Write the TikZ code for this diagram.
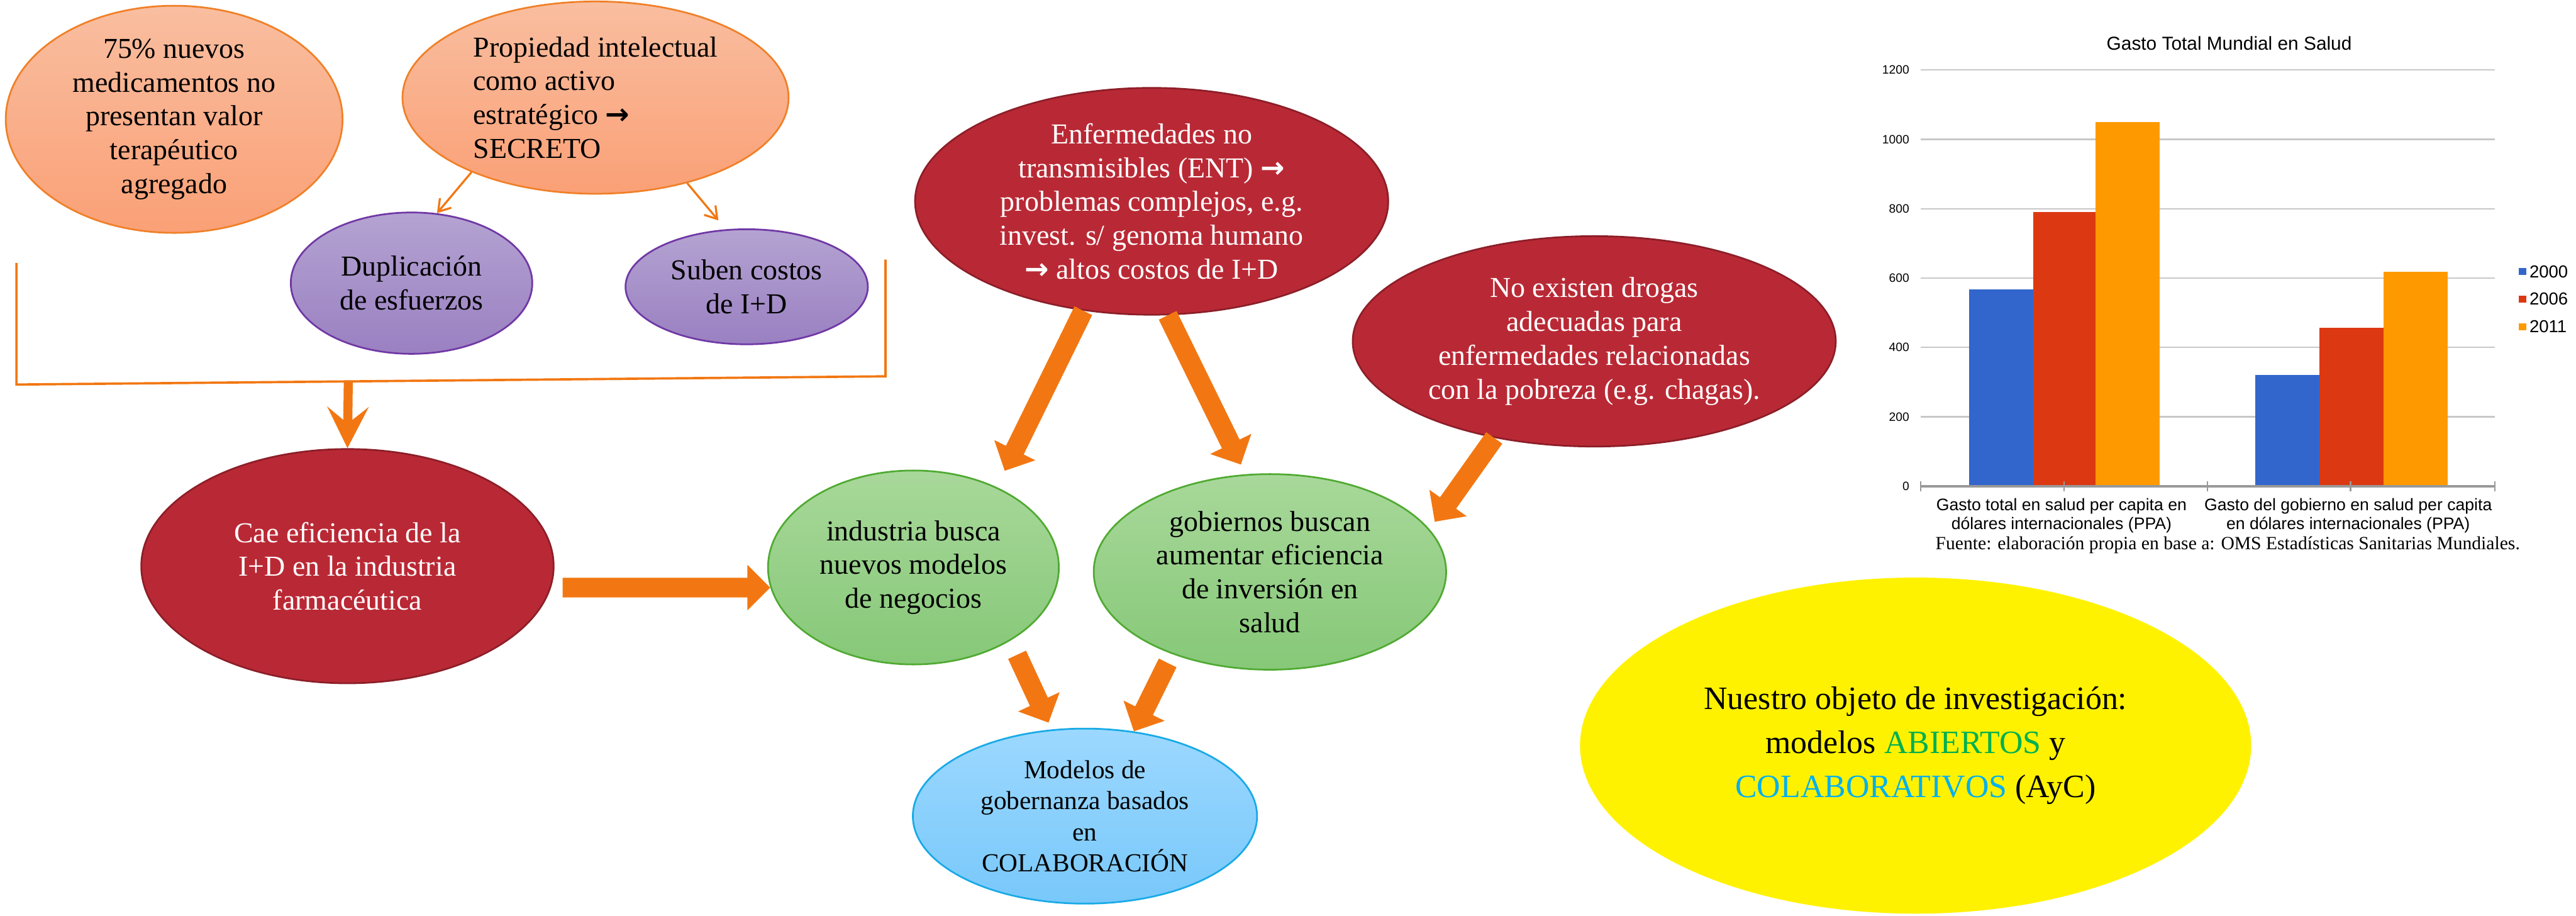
\documentclass[tikz,border=0pt]{standalone}
\usepackage{fontspec}
\setmainfont{Liberation Serif}
\setsansfont{Liberation Sans}
\newfontfamily\arrowglyph{DejaVu Sans}
\usepackage{tikz}
\usetikzlibrary{shapes.geometric,arrows.meta}
\definecolor{salmontop}{RGB}{249,190,160}
\definecolor{salmonbot}{RGB}{250,160,118}
\definecolor{salmonline}{RGB}{240,128,40}
\definecolor{purpletop}{RGB}{180,163,210}
\definecolor{purplebot}{RGB}{154,128,193}
\definecolor{purpleline}{RGB}{112,56,165}
\definecolor{darkred}{RGB}{185,41,53}
\definecolor{darkredline}{RGB}{140,30,40}
\definecolor{greentop}{RGB}{168,216,154}
\definecolor{greenbot}{RGB}{134,200,120}
\definecolor{greenline}{RGB}{80,170,50}
\definecolor{bluetop}{RGB}{156,216,255}
\definecolor{bluebot}{RGB}{120,200,250}
\definecolor{blueline}{RGB}{25,170,230}
\definecolor{arroworange}{RGB}{242,119,18}
\definecolor{chartblue}{RGB}{51,102,204}
\definecolor{chartred}{RGB}{220,57,18}
\definecolor{chartorange}{RGB}{255,153,0}
\definecolor{gridgray}{RGB}{200,200,200}
\definecolor{abiertos}{RGB}{0,176,80}
\definecolor{colab}{RGB}{0,176,240}
\newcommand{\thenarrow}{{\arrowglyph\bfseries →}}
\tikzset{
  bubble/.style={ellipse, inner sep=0pt, align=center, line width=0.6pt,
    font=\fontsize{10}{11.7}\selectfont},
  salmon/.style={bubble, draw=salmonline, top color=salmontop, bottom color=salmonbot},
  lilac/.style={bubble, draw=purpleline, top color=purpletop, bottom color=purplebot},
  redbubble/.style={bubble, draw=darkredline, fill=darkred, text=white},
  greenbubble/.style={bubble, draw=greenline, top color=greentop, bottom color=greenbot},
  bluebubble/.style={bubble, draw=blueline, top color=bluetop, bottom color=bluebot},
  fatarrow/.style={draw=arroworange, line width=2.4mm,
    -{Triangle[length=2.8mm,width=5.4mm]}},
  thinarrow/.style={draw=arroworange, line width=0.7pt,
    -{Straight Barb[length=1.4mm,width=1.8mm]}},
  bracketline/.style={draw=arroworange, line width=0.8pt},
  gridline/.style={draw=gridgray, line width=0.5pt},
  ticklbl/.style={font=\sffamily\fontsize{4.2}{5}\selectfont, anchor=east, inner sep=0pt},
}

\begin{document}
\begin{tikzpicture}[x=0.2mm, y=-0.2mm]
\path[use as bounding box, fill=white] (0,0) rectangle (1568,557);

% Top left bubbles
\node[salmon, minimum width=41mm, minimum height=25mm] (nuevos) at (106,72.6)
  {75\% nuevos\\medicamentos no\\presentan valor\\terapéutico\\agregado};
\node[salmon, minimum width=47mm, minimum height=23.4mm, align=left] (propiedad) at (362.5,59.4)
  {Propiedad intelectual\\como activo\\estratégico \thenarrow\\SECRETO};
\node[lilac, minimum width=29.4mm, minimum height=17.2mm] (duplicacion) at (250.5,172.3)
  {Duplicación\\de esfuerzos};
\node[lilac, minimum width=29.5mm, minimum height=14mm] (suben) at (454.5,174.5)
  {Suben costos\\de I+D};
\draw[thinarrow] (propiedad.211) -- (duplicacion.70);
\draw[thinarrow, shorten >=1.4mm] (propiedad.317) -- (suben.110);

% Bracket
\coordinate (brkL) at (10,160);
\coordinate (brkLB) at (10,234);
\coordinate (brkRB) at (539,229);
\coordinate (brkR) at (539,158);
\coordinate (brkMid) at (212,232.5);
\draw[bracketline] (brkL) -- (brkLB) -- (brkRB) -- (brkR);

% Middle row
\node[redbubble, minimum width=50.2mm, minimum height=28.5mm] (cae) at (211.5,344.5)
  {Cae eficiencia de la\\I+D en la industria\\farmacéutica};
\draw[draw=arroworange, line width=1.1mm, -{Stealth[length=5mm,width=5mm,inset=2mm]}]
  (brkMid) -- (cae.north);
\node[redbubble, minimum width=57.6mm, minimum height=27.6mm] (enf) at (701,122.5)
  {Enfermedades no\\transmisibles (ENT) \thenarrow\\problemas complejos, e.g.\\invest. s/ genoma humano\\\thenarrow{} altos costos de I+D};
\node[redbubble, minimum width=58.8mm, minimum height=25.6mm] (noexisten) at (970.4,207.7)
  {No existen drogas\\adecuadas para\\enfermedades relacionadas\\con la pobreza (e.g. chagas).};
\node[greenbubble, minimum width=35.4mm, minimum height=23.6mm] (industria) at (556,345.3)
  {industria busca\\nuevos modelos\\de negocios};
\node[greenbubble, minimum width=42.9mm, minimum height=23.8mm] (gobiernos) at (773,348)
  {gobiernos buscan\\aumentar eficiencia\\de inversión en\\salud};
\node[bluebubble, minimum width=41.9mm, minimum height=21.3mm,
  font=\fontsize{9}{10.8}\selectfont] (modelos) at (660.4,496.6)
  {Modelos de\\gobernanza basados\\en\\COLABORACIÓN};

% Fat arrows
\draw[fatarrow, shorten <=1.4mm] (cae.-6) -- (industria.188);
\draw[fatarrow, shorten >=2.2mm] (enf.238) -- (industria.44);
\draw[fatarrow, shorten >=1.3mm] (enf.278) -- (gobiernos.104);
\draw[fatarrow, shorten >=1.1mm] (noexisten.224) -- (gobiernos.15);
\draw[fatarrow, shorten <=1.9mm, shorten >=0.9mm] (industria.323) -- (modelos.111);
\draw[fatarrow, shorten <=1.2mm] (gobiernos.220) -- (modelos.60);

% Yellow bubble
\node[ellipse, fill=yellow, inner sep=0pt, minimum width=81.7mm, minimum height=40.9mm,
  align=center, font=\fontsize{11.3}{15.3}\selectfont] (objeto) at (1166,453.7)
  {Nuestro objeto de investigación:\\modelos \textcolor{abiertos}{ABIERTOS} y\\\textcolor{colab}{COLABORATIVOS} (AyC)};

% Chart
\node[font=\sffamily\fontsize{6.5}{7.8}\selectfont, inner sep=0pt] (title) at (1356.9,26.4)
  {Gasto Total Mundial en Salud};
\begin{scope}[shift={(1169.2,295.8)}]
  \foreach \v in {200,400,...,1200}
    \draw[gridline] (0,{-0.211*\v}) -- (349.5,{-0.211*\v});
  \foreach \v in {0,200,...,1200}
    \node[ticklbl] (t\v) at (-6.7,{-0.211*\v}) {\v};
  \foreach \xa/\v/\c in {29.3/568/chartblue, 68.3/790/chartred, 106.4/1050/chartorange,
      203.5/320/chartblue, 242.5/457/chartred, 281.5/619/chartorange}
    \fill[\c] (\xa,0) rectangle ++(39,{-0.211*\v});
  \draw[draw=gray!80, line width=0.8pt] (0,0) -- (349.5,0);
  \foreach \t in {0,87.1,174.4,261.5,349.5}
    \draw[draw=gray!80, line width=0.5pt] (\t,-3) -- (\t,3);
  \node[font=\sffamily\fontsize{5.8}{6.4}\selectfont, align=center, inner sep=0pt] (cat1) at (85.6,17.9)
    {Gasto total en salud per capita en\\dólares internacionales (PPA)};
  \node[font=\sffamily\fontsize{5.8}{6.4}\selectfont, align=center, inner sep=0pt] (cat2) at (260.1,17.9)
    {Gasto del gobierno en salud per capita\\en dólares internacionales (PPA)};
\end{scope}
% Legend
\foreach \yr/\c/\lbl in {165.2/chartblue/2000, 182/chartred/2006, 198.8/chartorange/2011} {
  \fill[\c] (1533.3,\yr-2.2) rectangle ++(4.4,4.4);
  \node[font=\sffamily\fontsize{6}{7}\selectfont, anchor=west, inner sep=0pt] (leg\lbl) at (1539.3,\yr) {\lbl};
}
\node[font=\fontsize{6.45}{7.5}\selectfont, inner sep=0pt] (fuente) at (1356,331.7)
  {Fuente: elaboración propia en base a: OMS Estadísticas Sanitarias Mundiales.};
\end{tikzpicture}
\end{document}
